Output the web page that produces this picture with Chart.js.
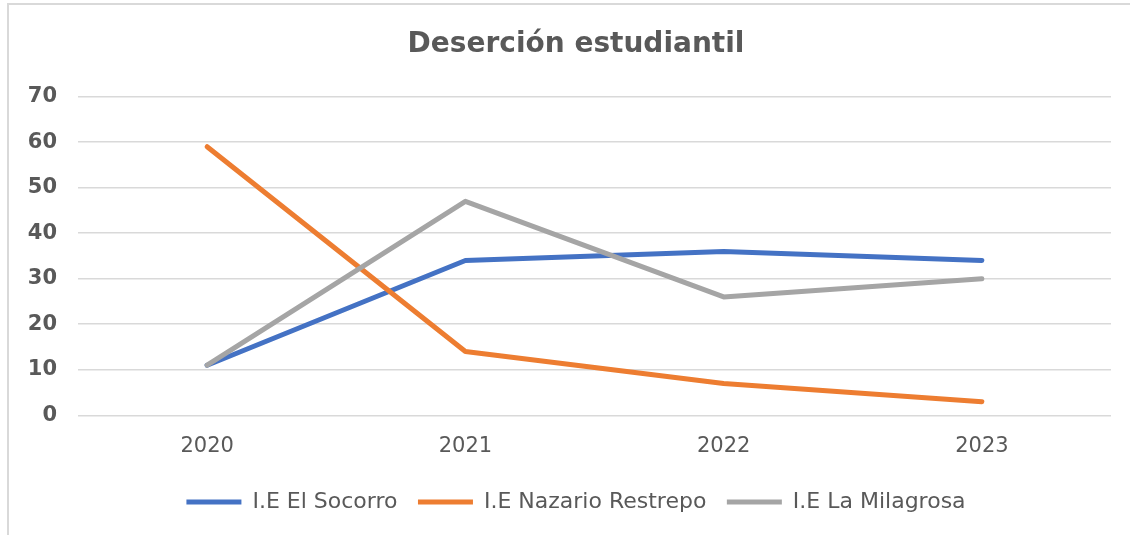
<!DOCTYPE html>
<html>
<head>
<meta charset="utf-8">
<script src="https://cdn.jsdelivr.net/npm/chart.js@4"></script>
<style>
  html, body { margin: 0; padding: 0; background: #fff; overflow: hidden; }
  .frame { position: absolute; left: 7px; top: 3px; width: 1200px; height: 600px; border: 2px solid #d9d9d9; }
  .wrap { position: absolute; left: 0; top: 0; width: 1130px; height: 535px; }
</style>
</head>
<body>
<div class="frame"></div>
<div class="wrap"><canvas id="chart"></canvas></div>
<script>
const years = ['2020', '2021', '2022', '2023'];
const socorro = [11, 34, 36, 34];
const nazario = [59, 14, 7, 3];
const milagrosa = [11, 47, 26, 30];
const yTicks = [0, 10, 20, 30, 40, 50, 60, 70];

const FONT = "'DejaVu Sans', sans-serif";
const TEXT = '#595959';

function line(label, data, color, order) {
  return {
    label: label,
    data: data,
    borderColor: color,
    backgroundColor: color,
    borderWidth: 5,
    borderCapStyle: 'round',
    borderJoinStyle: 'round',
    pointRadius: 0,
    tension: 0,
    order: order
  };
}

const ctx = document.getElementById('chart').getContext('2d');
new Chart(ctx, {
  type: 'line',
  data: {
    labels: years,
    datasets: [
      line('I.E El Socorro', socorro, '#4472C4', 3),
      line('I.E Nazario Restrepo', nazario, '#ED7D31', 2),
      line('I.E La Milagrosa', milagrosa, '#A5A5A5', 1)
    ]
  },
  options: {
    responsive: true,
    maintainAspectRatio: false,
    animation: false,
    layout: { padding: { left: 22, right: 0, top: 0, bottom: 12 } },
    scales: {
      x: {
        offset: true,
        grid: { display: false },
        border: { display: false },
        ticks: { color: TEXT, font: { family: FONT, size: 21 }, padding: 11 }
      },
      y: {
        min: 0,
        max: 70,
        afterBuildTicks: (scale) => { scale.ticks = yTicks.map(v => ({ value: v })); },
        afterFit: (scale) => { scale.width = 56; },
        grid: { color: '#d9d9d9', lineWidth: 1.5, drawTicks: false },
        border: { display: false },
        ticks: { color: TEXT, font: { family: FONT, size: 21, weight: 'bold' }, padding: 21 }
      },
      // empty right margin so the title and legend centre like the original
      spacer: {
        type: 'linear',
        position: 'right',
        afterFit: (scale) => { scale.width = 19; },
        grid: { display: false },
        border: { display: false },
        ticks: { display: false }
      }
    },
    plugins: {
      title: {
        display: true,
        text: 'Deserción estudiantil',
        color: TEXT,
        font: { family: FONT, size: 28, weight: 'bold' },
        padding: { top: 28, bottom: 35 }
      },
      legend: {
        position: 'bottom',
        labels: {
          color: TEXT,
          font: { family: FONT, size: 22 },
          usePointStyle: true,
          pointStyle: 'line',
          pointStyleWidth: 55,
          boxHeight: 20,
          padding: 20.5,
          sort: (a, b) => a.datasetIndex - b.datasetIndex
        }
      },
      tooltip: { enabled: false }
    }
  }
});
</script>
</body>
</html>
